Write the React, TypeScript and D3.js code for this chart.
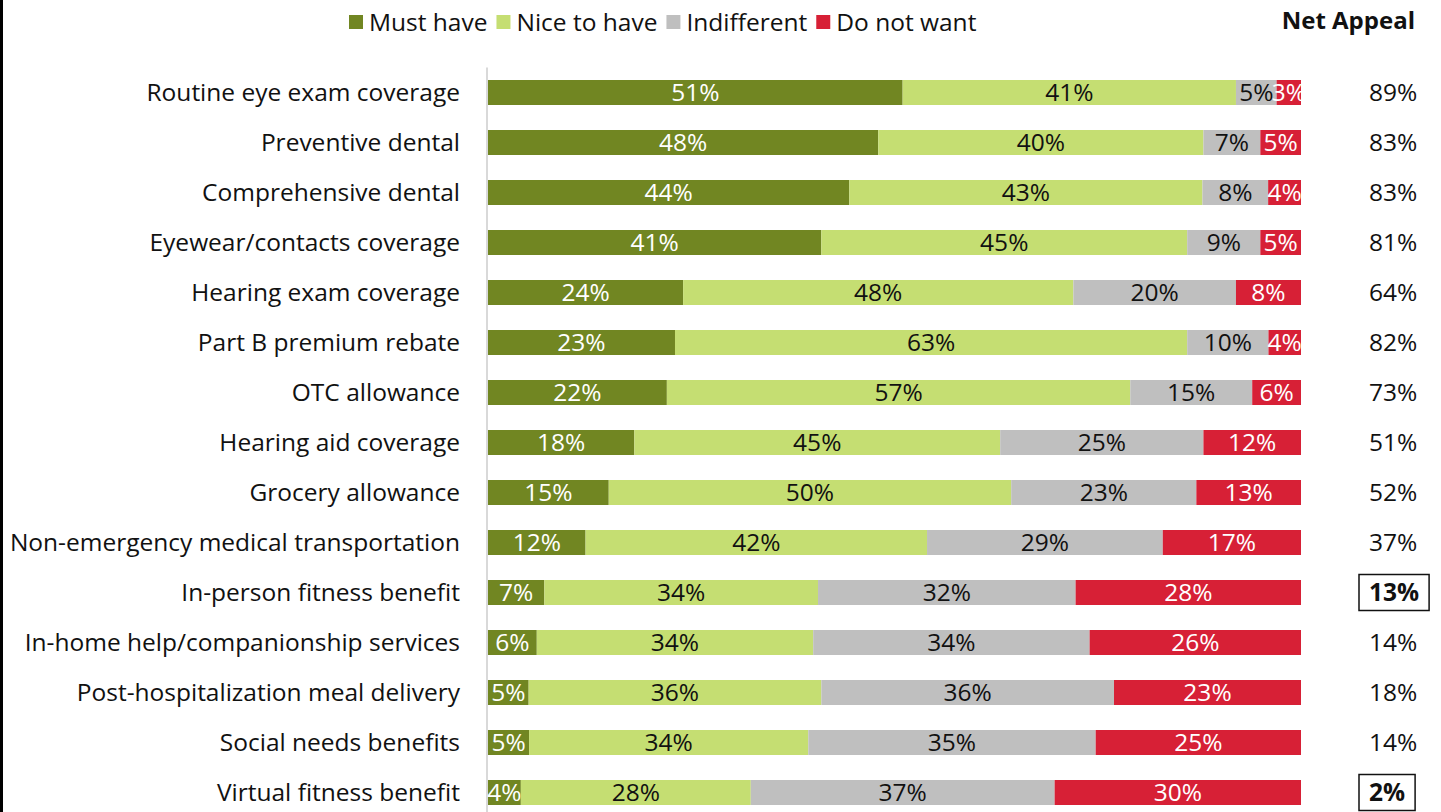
import React, { useEffect, useRef } from "react";
import * as d3 from "d3";

const categories = [
  "Routine eye exam coverage",
  "Preventive dental",
  "Comprehensive dental",
  "Eyewear/contacts coverage",
  "Hearing exam coverage",
  "Part B premium rebate",
  "OTC allowance",
  "Hearing aid coverage",
  "Grocery allowance",
  "Non-emergency medical transportation",
  "In-person fitness benefit",
  "In-home help/companionship services",
  "Post-hospitalization meal delivery",
  "Social needs benefits",
  "Virtual fitness benefit",
];

const seriesNames = ["Must have", "Nice to have", "Indifferent", "Do not want"];
const mustHave = [51, 48, 44, 41, 24, 23, 22, 18, 15, 12, 7, 6, 5, 5, 4];
const niceToHave = [41, 40, 43, 45, 48, 63, 57, 45, 50, 42, 34, 34, 36, 34, 28];
const indifferent = [5, 7, 8, 9, 20, 10, 15, 25, 23, 29, 32, 34, 36, 35, 37];
const doNotWant = [3, 5, 4, 5, 8, 4, 6, 12, 13, 17, 28, 26, 23, 25, 30];
const netAppeal = [89, 83, 83, 81, 64, 82, 73, 51, 52, 37, 13, 14, 18, 14, 2];
const highlighted = [false, false, false, false, false, false, false, false, false, false, true, false, false, false, true];

const colors = ["#718622", "#C5DE72", "#BFBFBF", "#D72036"];
const labelColors = ["#FFFFFF", "#111111", "#111111", "#FFFFFF"];

const FONT = "'Open Sans', Lato, sans-serif";
const FS = 24.5;

export default function App() {
  const ref = useRef<SVGSVGElement>(null);

  useEffect(() => {
    const svg = d3.select(ref.current);
    svg.selectAll("*").remove();

    const W = 1441, H = 812;
    const x0 = 488, x1 = 1301;
    const top = 67.5;
    const band = 50;

    const x = d3.scaleLinear().domain([0, 1]).range([x0, x1]);
    const y = d3
      .scaleBand<string>()
      .domain(categories)
      .range([top, top + band * categories.length])
      .paddingInner(0.5)
      .paddingOuter(0.25);

    const rows = categories.map((c, i) => ({
      cat: c,
      "Must have": mustHave[i],
      "Nice to have": niceToHave[i],
      Indifferent: indifferent[i],
      "Do not want": doNotWant[i],
    }));

    const stack = d3
      .stack<any>()
      .keys(seriesNames)
      .offset(d3.stackOffsetExpand);
    const stacked = stack(rows);

    svg.append("rect").attr("x", 0).attr("y", 0).attr("width", W).attr("height", H).attr("fill", "#fff");
    svg.append("rect").attr("x", 0).attr("y", 0).attr("width", 3).attr("height", H).attr("fill", "#000");

    // axis line
    svg
      .append("line")
      .attr("x1", x0 - 1)
      .attr("x2", x0 - 1)
      .attr("y1", top)
      .attr("y2", H)
      .attr("stroke", "#D9D9D9")
      .attr("stroke-width", 2);

    const g = svg.append("g");
    stacked.forEach((s, si) => {
      const sg = g.append("g");
      sg.selectAll("rect")
        .data(s)
        .join("rect")
        .attr("x", (d) => x(d[0]))
        .attr("width", (d) => x(d[1]) - x(d[0]))
        .attr("y", (d: any) => y(d.data.cat)!)
        .attr("height", y.bandwidth())
        .attr("fill", colors[si]);
      sg.selectAll("text")
        .data(s)
        .join("text")
        .attr("x", (d) => (x(d[0]) + x(d[1])) / 2)
        .attr("y", (d: any) => y(d.data.cat)! + y.bandwidth() / 2)
        .attr("dy", "0.36em")
        .attr("text-anchor", "middle")
        .attr("font-family", FONT)
        .attr("font-size", FS)
        .attr("fill", labelColors[si])
        .text((d: any) => d.data[seriesNames[si]] + "%");
    });

    // category labels
    svg
      .append("g")
      .selectAll("text")
      .data(categories)
      .join("text")
      .attr("x", 460)
      .attr("y", (d) => y(d)! + y.bandwidth() / 2)
      .attr("dy", "0.36em")
      .attr("text-anchor", "end")
      .attr("font-family", FONT)
      .attr("font-size", FS)
      .attr("fill", "#111")
      .text((d) => d);

    // net appeal
    const ng = svg.append("g");
    categories.forEach((c, i) => {
      const cy = y(c)! + y.bandwidth() / 2;
      const t = ng
        .append("text")
        .attr("x", 1369)
        .attr("y", cy)
        .attr("dy", "0.36em")
        .attr("font-family", FONT)
        .attr("font-size", FS)
        .attr("font-weight", highlighted[i] ? "bold" : "normal")
        .attr("fill", "#111")
        .text(netAppeal[i] + "%");
      if (highlighted[i]) {
        const w = (t.node() as SVGTextElement).getComputedTextLength();
        ng.append("rect")
          .attr("x", 1359)
          .attr("y", cy - 18)
          .attr("width", w + 20)
          .attr("height", 36)
          .attr("fill", "none")
          .attr("stroke", "#111")
          .attr("stroke-width", 1.5);
      }
    });

    svg
      .append("text")
      .attr("x", 1415)
      .attr("y", 20)
      .attr("dy", "0.36em")
      .attr("text-anchor", "end")
      .attr("font-family", FONT)
      .attr("font-size", 24)
      .attr("font-weight", "bold")
      .attr("fill", "#111")
      .text("Net Appeal");

    // legend
    const lg = svg.append("g");
    let lx = 349;
    seriesNames.forEach((n, i) => {
      lg.append("rect").attr("x", lx).attr("y", 15).attr("width", 14).attr("height", 14).attr("fill", colors[i]);
      const t = lg
        .append("text")
        .attr("x", lx + 20)
        .attr("y", 22)
        .attr("dy", "0.36em")
        .attr("font-family", FONT)
        .attr("font-size", FS)
        .attr("fill", "#111")
        .text(n);
      const w = (t.node() as SVGTextElement).getComputedTextLength();
      lx = lx + 20 + w + 9;
    });
  }, []);

  return (
    <svg
      ref={ref}
      width={1441}
      height={812}
      style={{ position: "absolute", left: 0, top: 0, display: "block" }}
    />
  );
}
